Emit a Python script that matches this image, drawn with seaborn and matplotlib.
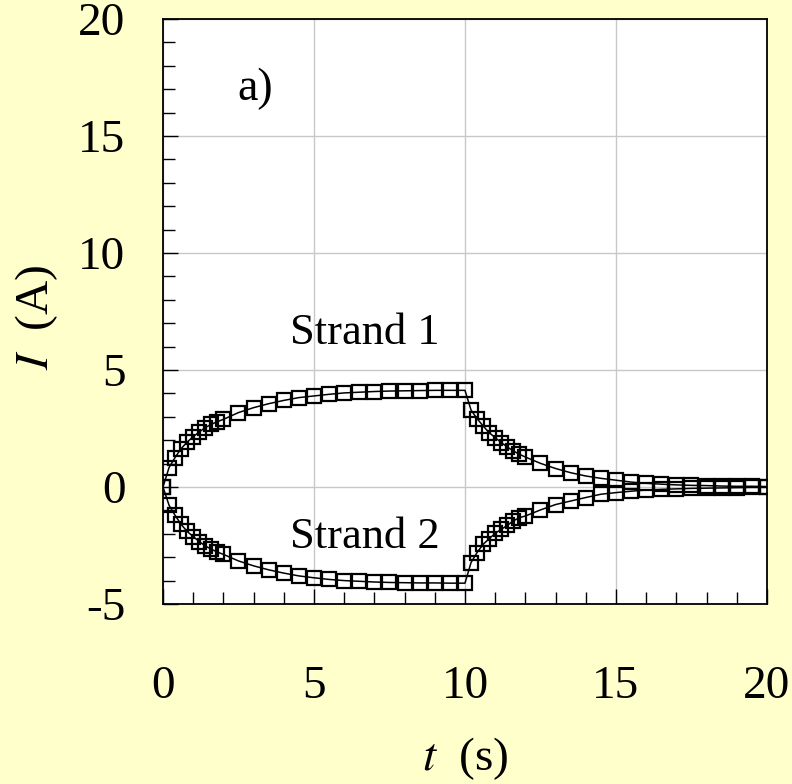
import matplotlib
matplotlib.use("Agg")
import matplotlib.pyplot as plt
import seaborn as sns
import pandas as pd
from matplotlib.ticker import MultipleLocator

# time samples (s)
t = [0.0, 0.2, 0.4, 0.6, 0.8, 1.0, 1.2, 1.4, 1.6, 1.8, 2.0,
     2.5, 3.0, 3.5, 4.0, 4.5, 5.0, 5.5, 6.0, 6.5, 7.0, 7.5, 8.0, 8.5, 9.0, 9.5, 10.0,
     10.2, 10.4, 10.6, 10.8, 11.0, 11.2, 11.4, 11.6, 11.8, 12.0,
     12.5, 13.0, 13.5, 14.0, 14.5, 15.0, 15.5, 16.0, 16.5, 17.0, 17.5, 18.0,
     18.5, 19.0, 19.5, 20.0]

# current in strand 1 (A)
strand1 = [0.0, 0.83, 1.26, 1.64, 1.92, 2.15, 2.35, 2.54, 2.68, 2.79, 2.89,
           3.18, 3.39, 3.56, 3.70, 3.82, 3.89, 3.96, 4.02, 4.05, 4.08, 4.10, 4.11, 4.12, 4.13, 4.13, 4.13,
           3.29, 2.92, 2.61, 2.32, 2.11, 1.90, 1.71, 1.54, 1.40, 1.28,
           1.01, 0.79, 0.61, 0.47, 0.37, 0.29, 0.21, 0.16, 0.12, 0.09, 0.07, 0.06,
           0.04, 0.03, 0.03, 0.02]

# current in strand 2 (A)
strand2 = [0.0, -0.78, -1.21, -1.60, -1.90, -2.12, -2.33, -2.52, -2.66, -2.78, -2.88,
           -3.16, -3.37, -3.54, -3.68, -3.80, -3.88, -3.95, -4.00, -4.03, -4.06, -4.08, -4.09, -4.10, -4.10, -4.11, -4.11,
           -3.23, -2.80, -2.45, -2.21, -1.98, -1.81, -1.64, -1.45, -1.31, -1.24,
           -0.98, -0.75, -0.60, -0.45, -0.31, -0.24, -0.18, -0.13, -0.10, -0.08, -0.06, -0.05,
           -0.04, -0.03, -0.02, -0.02]

df = pd.DataFrame({'t': t + t,
                   'I': strand1 + strand2,
                   'strand': ['Strand 1'] * len(t) + ['Strand 2'] * len(t)})

sns.set_style("white")
plt.rcParams['font.family'] = ['Liberation Serif', 'DejaVu Serif']
plt.rcParams['mathtext.fontset'] = 'stix'
plt.rcParams['axes.unicode_minus'] = False
plt.rcParams['text.color'] = 'black'
plt.rcParams['axes.labelcolor'] = 'black'
plt.rcParams['xtick.color'] = 'black'
plt.rcParams['ytick.color'] = 'black'

bg = '#FFFFCC'
fig = plt.figure(figsize=(7.92, 7.84), dpi=100, facecolor=bg)
ax = fig.add_axes([0.2058, 0.2296, 0.7626, 0.7462])
ax.set_facecolor('white')

sns.lineplot(data=df, x='t', y='I', units='strand', estimator=None,
             color='black', linewidth=1.1, marker='s', markersize=10.5,
             markerfacecolor='none', markeredgecolor='black', markeredgewidth=1.6,
             ax=ax, legend=False, sort=False)

ax.set_xlim(0, 20)
ax.set_ylim(-5, 20)
ax.xaxis.set_major_locator(MultipleLocator(5))
ax.xaxis.set_minor_locator(MultipleLocator(1))
ax.yaxis.set_major_locator(MultipleLocator(5))
ax.yaxis.set_minor_locator(MultipleLocator(1))
ax.grid(True, which='major', color='#c8c8c8', linewidth=1.0)
ax.set_axisbelow(True)

for s in ax.spines.values():
    s.set_color('black')
    s.set_linewidth(1.3)

ax.tick_params(which='both', direction='in', top=False, right=False,
               bottom=True, left=True, color='black', width=1.0)
ax.tick_params(which='major', length=11, labelsize=34)
ax.tick_params(which='minor', length=8.5)
ax.tick_params(axis='x', which='major', pad=44)
ax.tick_params(axis='y', which='major', pad=27)

ax.set_xlabel(r'$t$  (s)', fontsize=34)
ax.set_ylabel(r'$I$  (A)', fontsize=34)
ax.xaxis.set_label_coords(0.5, -0.224)
ax.yaxis.set_label_coords(-0.17, 0.49)

ax.text(3.05, 17.0, 'a)', fontsize=33, ha='center', va='center')
ax.text(6.69, 6.6, 'Strand 1', fontsize=32, ha='center', va='center')
ax.text(6.69, -2.15, 'Strand 2', fontsize=32, ha='center', va='center')

fig.savefig('out.png', dpi=100, facecolor=bg)
